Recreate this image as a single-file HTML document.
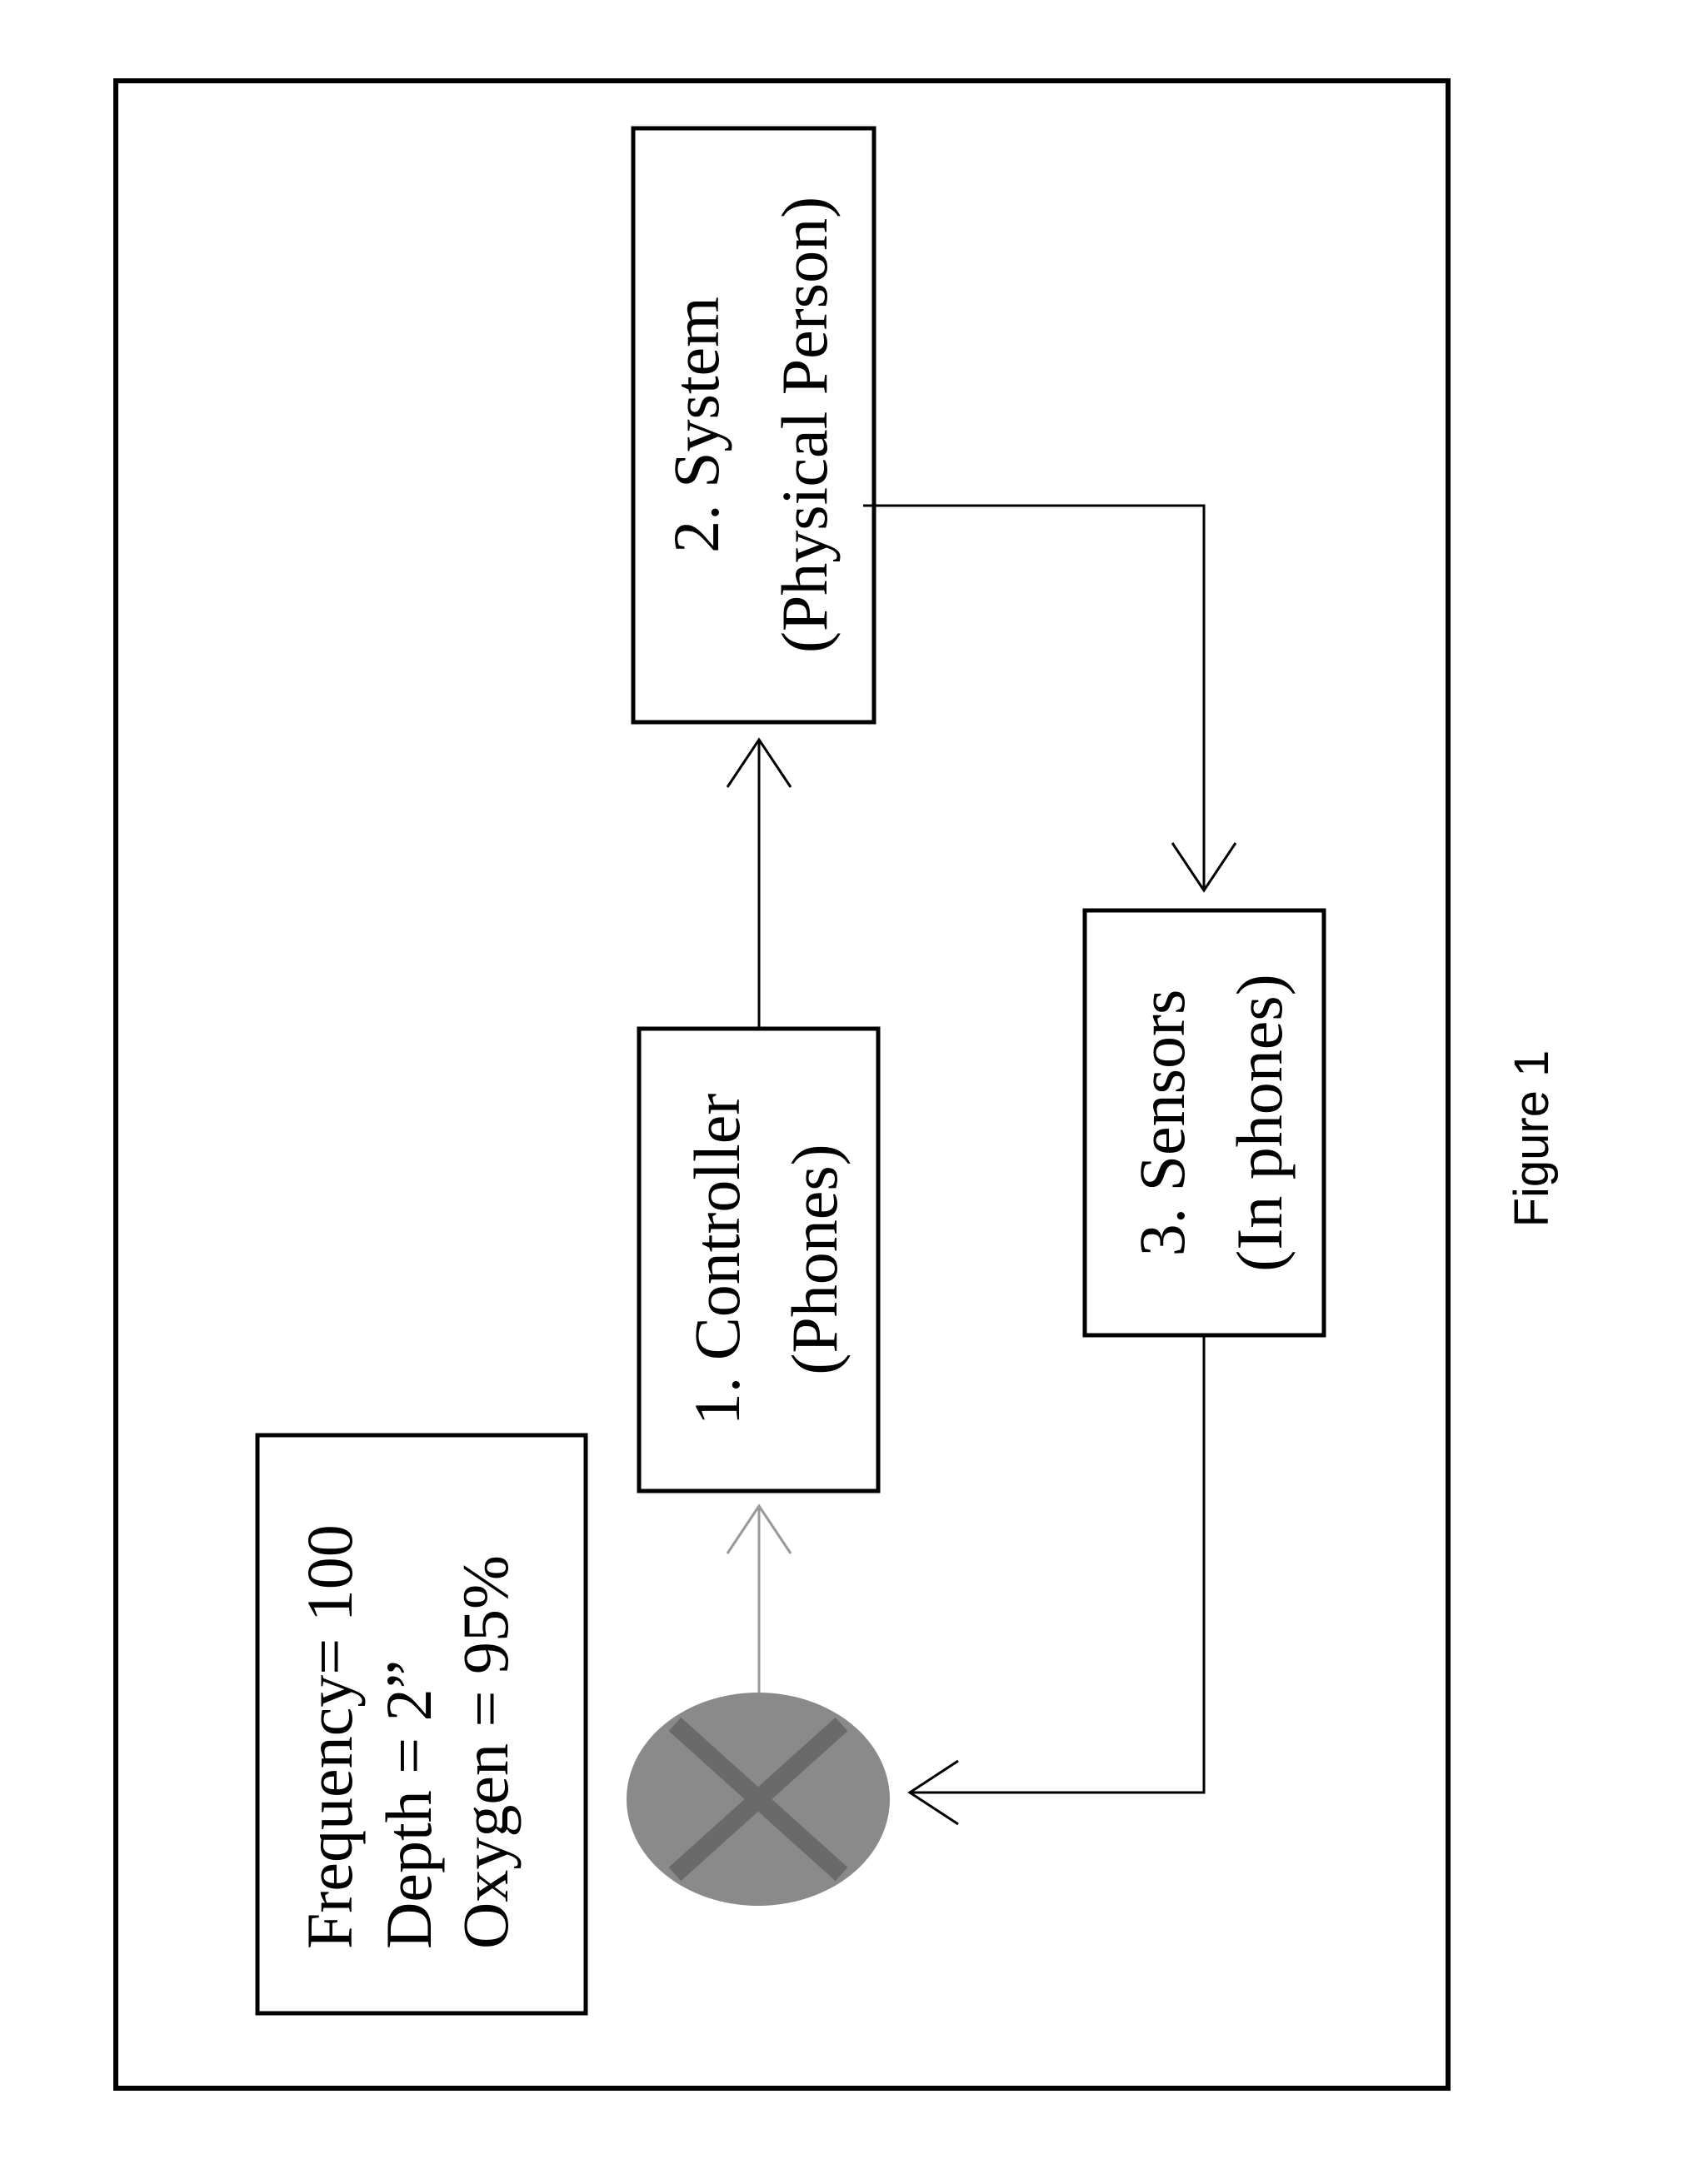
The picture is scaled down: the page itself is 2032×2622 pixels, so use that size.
<!DOCTYPE html>
<html><head><meta charset="utf-8"><style>html,body{margin:0;padding:0;background:#fff}svg{display:block}</style></head>
<body>
<svg width="2032" height="2622" viewBox="0 0 2032 2622" xmlns="http://www.w3.org/2000/svg">
<rect width="2032" height="2622" fill="#fff"/>
<rect x="139" y="97" width="1599" height="2410" fill="none" stroke="#000" stroke-width="6"/>
<g fill="none" stroke="#000" stroke-width="5">
<rect x="760" y="154" width="289" height="713"/>
<rect x="767" y="1235" width="287" height="555"/>
<rect x="1302" y="1093" width="287" height="510"/>
<rect x="309" y="1723" width="394" height="694"/>
</g>
<g fill="none" stroke="#000" stroke-width="3">
<line x1="911" y1="1235" x2="911" y2="890"/>
<polyline points="873,945 911,888 949,945"/>
<polyline points="1036,607 1445,607 1445,1069"/>
<polyline points="1407,1012 1445,1069 1483,1012"/>
<polyline points="1445,1603 1445,2152 1092,2152"/>
<polyline points="1150,2114 1092,2152 1150,2190"/>
</g>
<g fill="none" stroke="#999" stroke-width="3">
<line x1="911" y1="2032" x2="911" y2="1808"/>
<polyline points="873,1865 911,1808 949,1865"/>
</g>
<ellipse cx="910" cy="2160" rx="158" ry="128" fill="#8a8a8a"/>
<g stroke="#6a6a6a" stroke-width="22">
<line x1="810" y1="2070" x2="1010" y2="2250"/>
<line x1="1010" y1="2070" x2="810" y2="2250"/>
</g>
<g font-family="Liberation Serif, serif" font-size="78" fill="#000" text-anchor="middle">
<text transform="translate(862,510) rotate(-90)">2. System</text>
<text transform="translate(992,510) rotate(-90)">(Physical Person)</text>
<text transform="translate(887,1512) rotate(-90)">1. Controller</text>
<text transform="translate(1004,1512) rotate(-90)">(Phones)</text>
<text transform="translate(1421,1348) rotate(-90)">3. Sensors</text>
<text transform="translate(1538,1348) rotate(-90)">(In phones)</text>
</g>
<g font-family="Liberation Serif, serif" font-size="78" fill="#000" text-anchor="start">
<text transform="translate(422,2340) rotate(-90)">Frequency= 100</text>
<text transform="translate(517,2340) rotate(-90)">Depth = 2”</text>
<text transform="translate(609,2340) rotate(-90)">Oxygen = 95%</text>
</g>
<text transform="translate(1858,1367) rotate(-90)" font-family="Liberation Sans, sans-serif" font-size="58" text-anchor="middle">Figure 1</text>
</svg>
</body></html>
